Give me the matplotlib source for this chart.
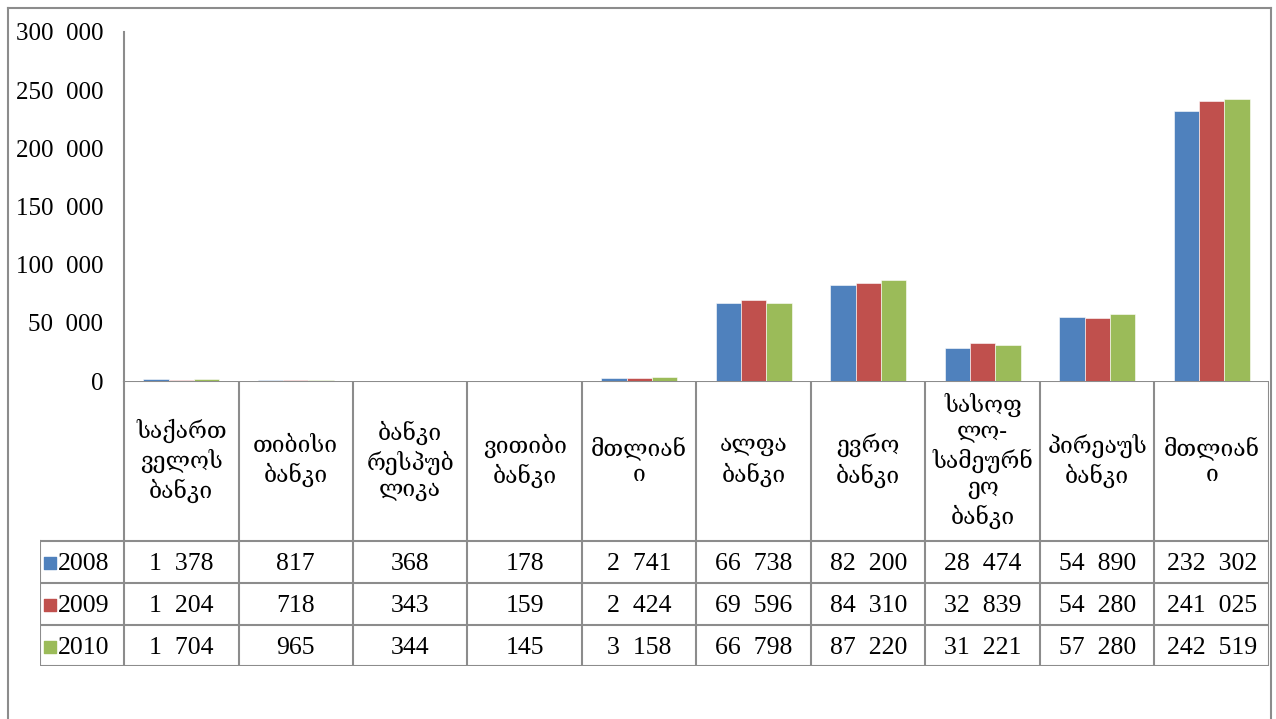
import matplotlib.pyplot as plt
import numpy as np

plt.rcParams['font.family'] = ['Liberation Serif', 'DejaVu Serif', 'DejaVu Sans']

# data
categories = ['საქართ\nველოს\nბანკი', 'თიბისი\nბანკი', 'ბანკი\nრესპუბ\nლიკა',
              'ვითიბი\nბანკი', 'მთლიან\nი', 'ალფა\nბანკი', 'ევრო\nბანკი',
              'სასოფ\nლო-\nსამეურნ\nეო\nბანკი', 'პირეაუს\nბანკი', 'მთლიან\nი']
years = ['2008', '2009', '2010']
v2008 = [1378, 817, 368, 178, 2741, 66738, 82200, 28474, 54890, 232302]
v2009 = [1204, 718, 343, 159, 2424, 69596, 84310, 32839, 54280, 241025]
v2010 = [1704, 965, 344, 145, 3158, 66798, 87220, 31221, 57280, 242519]
colors = ['#4F81BD', '#C0504D', '#9BBB59']
yticks = [0, 50000, 100000, 150000, 200000, 250000, 300000]

W, H = 1276, 719
fig = plt.figure(figsize=(W / 100, H / 100), dpi=100)
grid_c = '#8c8c8c'

def fmt(v):
    s = f'{v:,}'.replace(',', '  ')
    return s

# outer frame
fig.add_artist(plt.Line2D([8 / W, 8 / W], [0, 1 - 8 / H], transform=fig.transFigure, color=grid_c, lw=1.5))
fig.add_artist(plt.Line2D([8 / W, 1271 / W], [1 - 8 / H, 1 - 8 / H], transform=fig.transFigure, color=grid_c, lw=1.5))
fig.add_artist(plt.Line2D([1271 / W, 1271 / W], [0, 1 - 8 / H], transform=fig.transFigure, color=grid_c, lw=1.5))

# bar axes
x0, x1, ytop, ybot = 124, 1269, 32, 381
ax = fig.add_axes([x0 / W, 1 - ybot / H, (x1 - x0) / W, (ybot - ytop) / H])
n = len(categories)
x = np.arange(n) + 0.5
bw = 0.221
for k, vals in enumerate([v2008, v2009, v2010]):
    ax.bar(x + (k - 1) * bw, vals, bw, color=colors[k], edgecolor='white', linewidth=0.4, zorder=2)
ax.set_xlim(0, n)
ax.set_ylim(0, 300000)
ax.set_yticks(yticks)
ax.set_yticklabels([fmt(t) for t in yticks], fontsize=18)
ax.tick_params(axis='y', length=0, pad=15)
ax.set_xticks([])
for s in ['top', 'right', 'bottom']:
    ax.spines[s].set_visible(False)
ax.spines['left'].set_color(grid_c)
ax.spines['left'].set_linewidth(1.5)
ax.patch.set_alpha(0)

# table axes (x in category units, y in pixels)
tb0, tb1 = 381, 666
leg_x = 40
xl = -(x0 - leg_x) / ((x1 - x0) / n)
tab = fig.add_axes([leg_x / W, 1 - tb1 / H, (x1 - leg_x) / W, (tb1 - tb0) / H])
tab.set_xlim(xl, n)
tab.set_ylim(tb1, tb0)
tab.axis('off')
rows = [541, 583, 625, 666]
lk = dict(color=grid_c, lw=1.5, solid_capstyle='projecting')
tab.plot([0, n], [tb0, tb0], **lk)
for r in rows:
    tab.plot([xl, n], [r, r], **lk)
for i in range(n + 1):
    tab.plot([i, i], [tb0, tb1], **lk)
tab.plot([xl, xl], [rows[0], tb1], **lk)

for i, c in enumerate(categories):
    tab.text(i + 0.5, (tb0 + rows[0]) / 2, c, ha='center', va='center', fontsize=16.5, linespacing=1.3)

for k, vals in enumerate([v2008, v2009, v2010]):
    yc = (rows[k] + rows[k + 1]) / 2 + 2
    tab.scatter([xl + 0.09], [yc - 1], marker='s', s=70, color=colors[k])
    tab.text(xl + 0.16, yc, years[k], ha='left', va='center', fontsize=18.5)
    for i, v in enumerate(vals):
        tab.text(i + 0.5, yc, fmt(v), ha='center', va='center', fontsize=18.5)

fig.savefig('out.png', dpi=100)
